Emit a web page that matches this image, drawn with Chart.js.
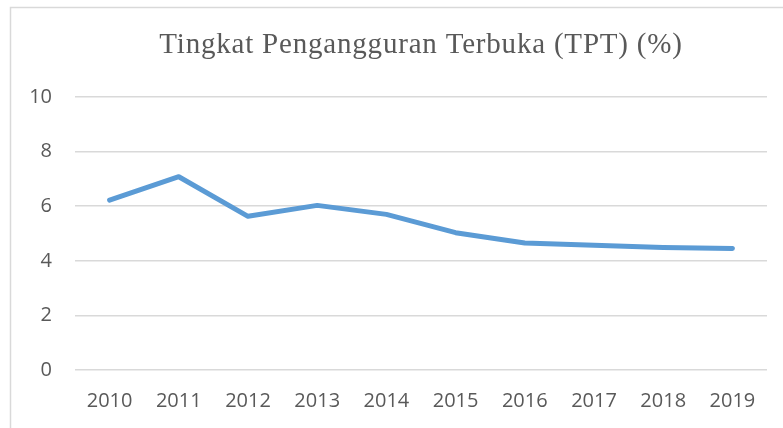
<!DOCTYPE html>
<html>
<head>
<meta charset="utf-8">
<script src="https://cdn.jsdelivr.net/npm/chart.js@4/dist/chart.umd.min.js"></script>
<style>
  html, body { margin: 0; padding: 0; background: #fff; }
  #wrap { position: relative; width: 783px; height: 428px; }
</style>
</head>
<body>
<div id="wrap"><canvas id="c" width="783" height="428"></canvas></div>
<script>
const chartTitle = "Tingkat Pengangguran Terbuka (TPT) (%)";
const years = ["2010","2011","2012","2013","2014","2015","2016","2017","2018","2019"];
const tptValues = [6.22, 7.08, 5.63, 6.03, 5.70, 5.03, 4.65, 4.57, 4.49, 4.45];
const yTicks = [0, 2, 4, 6, 8, 10];

const framePlugin = {
  id: 'frame',
  beforeDraw(chart) {
    const ctx = chart.ctx;
    ctx.save();
    ctx.fillStyle = '#ffffff';
    ctx.fillRect(0, 0, chart.width, chart.height);
    ctx.strokeStyle = '#d9d9d9';
    ctx.lineWidth = 1.5;
    ctx.beginPath();
    ctx.moveTo(10.5, chart.height);
    ctx.lineTo(10.5, 7.5);
    ctx.lineTo(chart.width, 7.5);
    ctx.stroke();
    ctx.restore();
  },
  afterDraw(chart) {
    const ctx = chart.ctx;
    const a = chart.chartArea;
    ctx.save();
    ctx.fillStyle = '#595959';
    ctx.font = '29px "Liberation Serif"';
    if ('letterSpacing' in ctx) ctx.letterSpacing = '0.8px';
    ctx.textAlign = 'center';
    ctx.textBaseline = 'alphabetic';
    ctx.fillText(chartTitle, (a.left + a.right) / 2, 53);
    ctx.restore();
  }
};

new Chart(document.getElementById('c'), {
  type: 'line',
  data: {
    labels: years,
    datasets: [{
      data: tptValues,
      borderColor: '#5b9bd5',
      borderWidth: 5,
      pointRadius: 0,
      tension: 0,
      borderCapStyle: 'round',
      borderJoinStyle: 'round',
      fill: false
    }]
  },
  options: {
    responsive: false,
    animation: false,
    layout: { padding: { left: 0, right: 16, top: 97, bottom: 0 } },
    plugins: {
      legend: { display: false },
      tooltip: { enabled: false },
      title: { display: false }
    },
    scales: {
      x: {
        offset: true,
        afterFit(scale) { scale.height = 58; },
        grid: { display: false, drawTicks: false },
        border: { display: false },
        ticks: {
          color: '#595959',
          font: { family: 'Open Sans', size: 20 },
          padding: 19,
          maxRotation: 0
        }
      },
      y: {
        min: 0,
        max: 10,
        afterBuildTicks(scale) { scale.ticks = yTicks.map(v => ({ value: v })); },
        afterFit(scale) { scale.width = 75; },
        grid: { color: '#d9d9d9', lineWidth: 1.5, drawTicks: false },
        border: { display: false },
        ticks: {
          color: '#595959',
          font: { family: 'Open Sans', size: 20 },
          padding: 23
        }
      }
    }
  },
  plugins: [framePlugin]
});
</script>
</body>
</html>
